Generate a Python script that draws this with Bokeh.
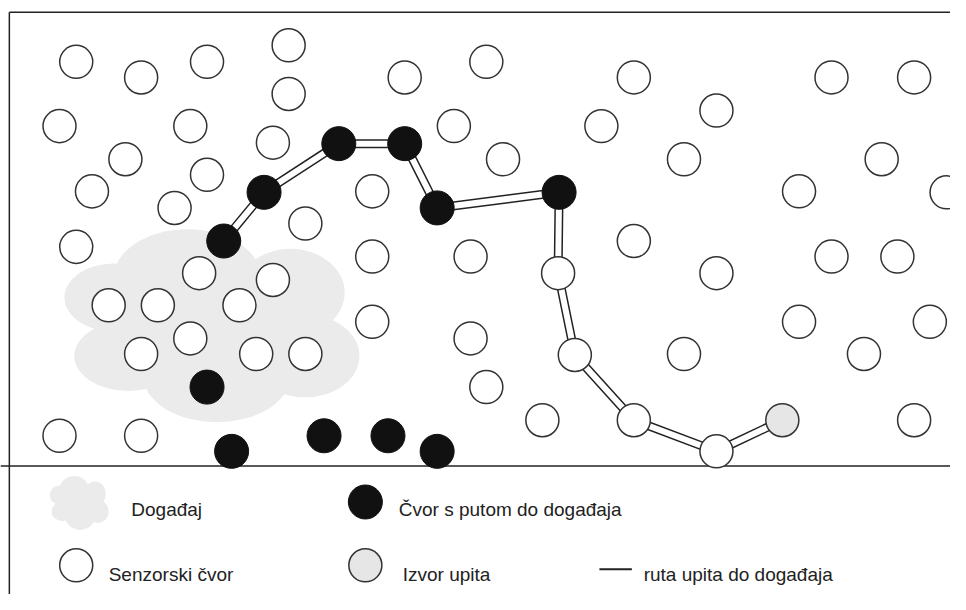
from bokeh.plotting import figure
from bokeh.models import Range1d
from bokeh.core.properties import value
from bokeh.embed import file_html
from bokeh.resources import INLINE

# ---- sensor nodes (plain white) ----
sensor_x = [77, 143, 210, 293, 293, 411, 494, 644, 845, 929, 728, 60, 193, 277, 461, 611,
            127, 210, 93, 177, 378, 511, 695, 896, 812, 962, 310, 77, 378, 478, 644, 728,
            845, 912, 202, 277, 110, 160, 243, 378, 812, 945, 193, 143, 260, 310, 478, 695,
            878, 494, 60, 143, 551, 929]
sensor_y = [63, 79, 63, 46, 96, 79, 63, 79, 79, 79, 113, 129, 129, 146, 129, 129,
            163, 179, 196, 213, 196, 163, 163, 163, 196, 197, 229, 253, 263, 263, 247, 280,
            263, 263, 280, 287, 313, 313, 313, 330, 330, 330, 347, 363, 363, 363, 347, 363,
            363, 397, 447, 447, 431, 431]

# ---- nodes with a path to the event (black) on the query route ----
route_black_x = [227, 268, 344, 411, 444, 568]
route_black_y = [247, 197, 147, 147, 213, 197]
# ---- nodes with a path to the event, not on the route ----
other_black_x = [210, 235, 329, 394, 444]
other_black_y = [397, 463, 447, 447, 463]
# ---- white sensor nodes on the query route ----
route_white_x = [567, 584, 644, 728]
route_white_y = [280, 364, 431, 463]
# ---- query source ----
source_x = [795]
source_y = [431]

# ---- event cloud lobes ----
cloud_x = [190, 295, 310, 220, 130, 115, 215]
cloud_y = [285, 300, 365, 385, 365, 305, 330]
cloud_w = [150, 110, 110, 150, 110, 100, 200]
cloud_h = [100, 90, 85, 96, 72, 70, 120]

# ---- legend ----
legend_labels = ["Događaj", "Čvor s putom do događaja", "Senzorski čvor", "Izvor upita", "ruta upita do događaja"]
legend_text_x = [133, 405, 110, 409, 654]
legend_text_y = [523, 523, 589, 589, 589]

FONT = value("Liberation Sans")
R = 16.8

p = figure(width=950, height=594, x_range=Range1d(0, 966), y_range=Range1d(610, 0),
           output_backend="svg", toolbar_location=None, tools="", min_border=0,
           x_axis_location=None, y_axis_location=None)
p.grid.visible = False
p.outline_line_color = None
p.background_fill_color = "white"
p.border_fill_color = "white"

# frame
p.segment(x0=[9, 9, 0], y0=[12, 12, 478], x1=[966, 9, 966], y1=[12, 610, 478],
          line_color="#222222", line_width=1.5)

# cloud
p.ellipse(x=cloud_x, y=cloud_y, width=cloud_w, height=cloud_h,
          fill_color="#ebebeb", line_color=None)

# route (double line)
rx = route_black_x + route_white_x + source_x
ry = route_black_y + route_white_y + source_y
p.line(rx, ry, line_width=9, line_color="#222222", line_join="round")
p.line(rx, ry, line_width=6, line_color="white", line_join="round")

# nodes
p.circle(x=sensor_x, y=sensor_y, radius=R, fill_color="white", line_color="#333333", line_width=1.5)
p.circle(x=route_white_x, y=route_white_y, radius=R, fill_color="white", line_color="#333333", line_width=1.5)
p.circle(x=route_black_x + other_black_x, y=route_black_y + other_black_y, radius=17.3,
         fill_color="#111111", line_color="#111111", line_width=1)
p.circle(x=source_x, y=source_y, radius=R, fill_color="#e6e6e6", line_color="#333333", line_width=1.5)

# legend icons
icon_cx, icon_cy, sx, sy = 80, 516, 0.2, 0.28
p.ellipse(x=[icon_cx + (cx - 215) * sx for cx in cloud_x],
          y=[icon_cy + (cy - 334) * sy for cy in cloud_y],
          width=[w * sx for w in cloud_w], height=[h * sy for h in cloud_h],
          fill_color="#ebebeb", line_color=None)
p.circle(x=[371], y=[515], radius=17.3, fill_color="#111111", line_color="#111111")
p.circle(x=[77], y=[580], radius=R, fill_color="white", line_color="#333333", line_width=1.5)
p.circle(x=[371], y=[580], radius=R, fill_color="#e6e6e6", line_color="#333333", line_width=1.5)
p.segment(x0=[609], y0=[584], x1=[642], y1=[584], line_color="#222222", line_width=2)

p.text(x=legend_text_x, y=legend_text_y, text=legend_labels, text_font=FONT,
       text_font_size="19px", text_color="#222222", text_baseline="alphabetic", text_align="left")

open("out.html", "w").write(file_html(p, INLINE))
